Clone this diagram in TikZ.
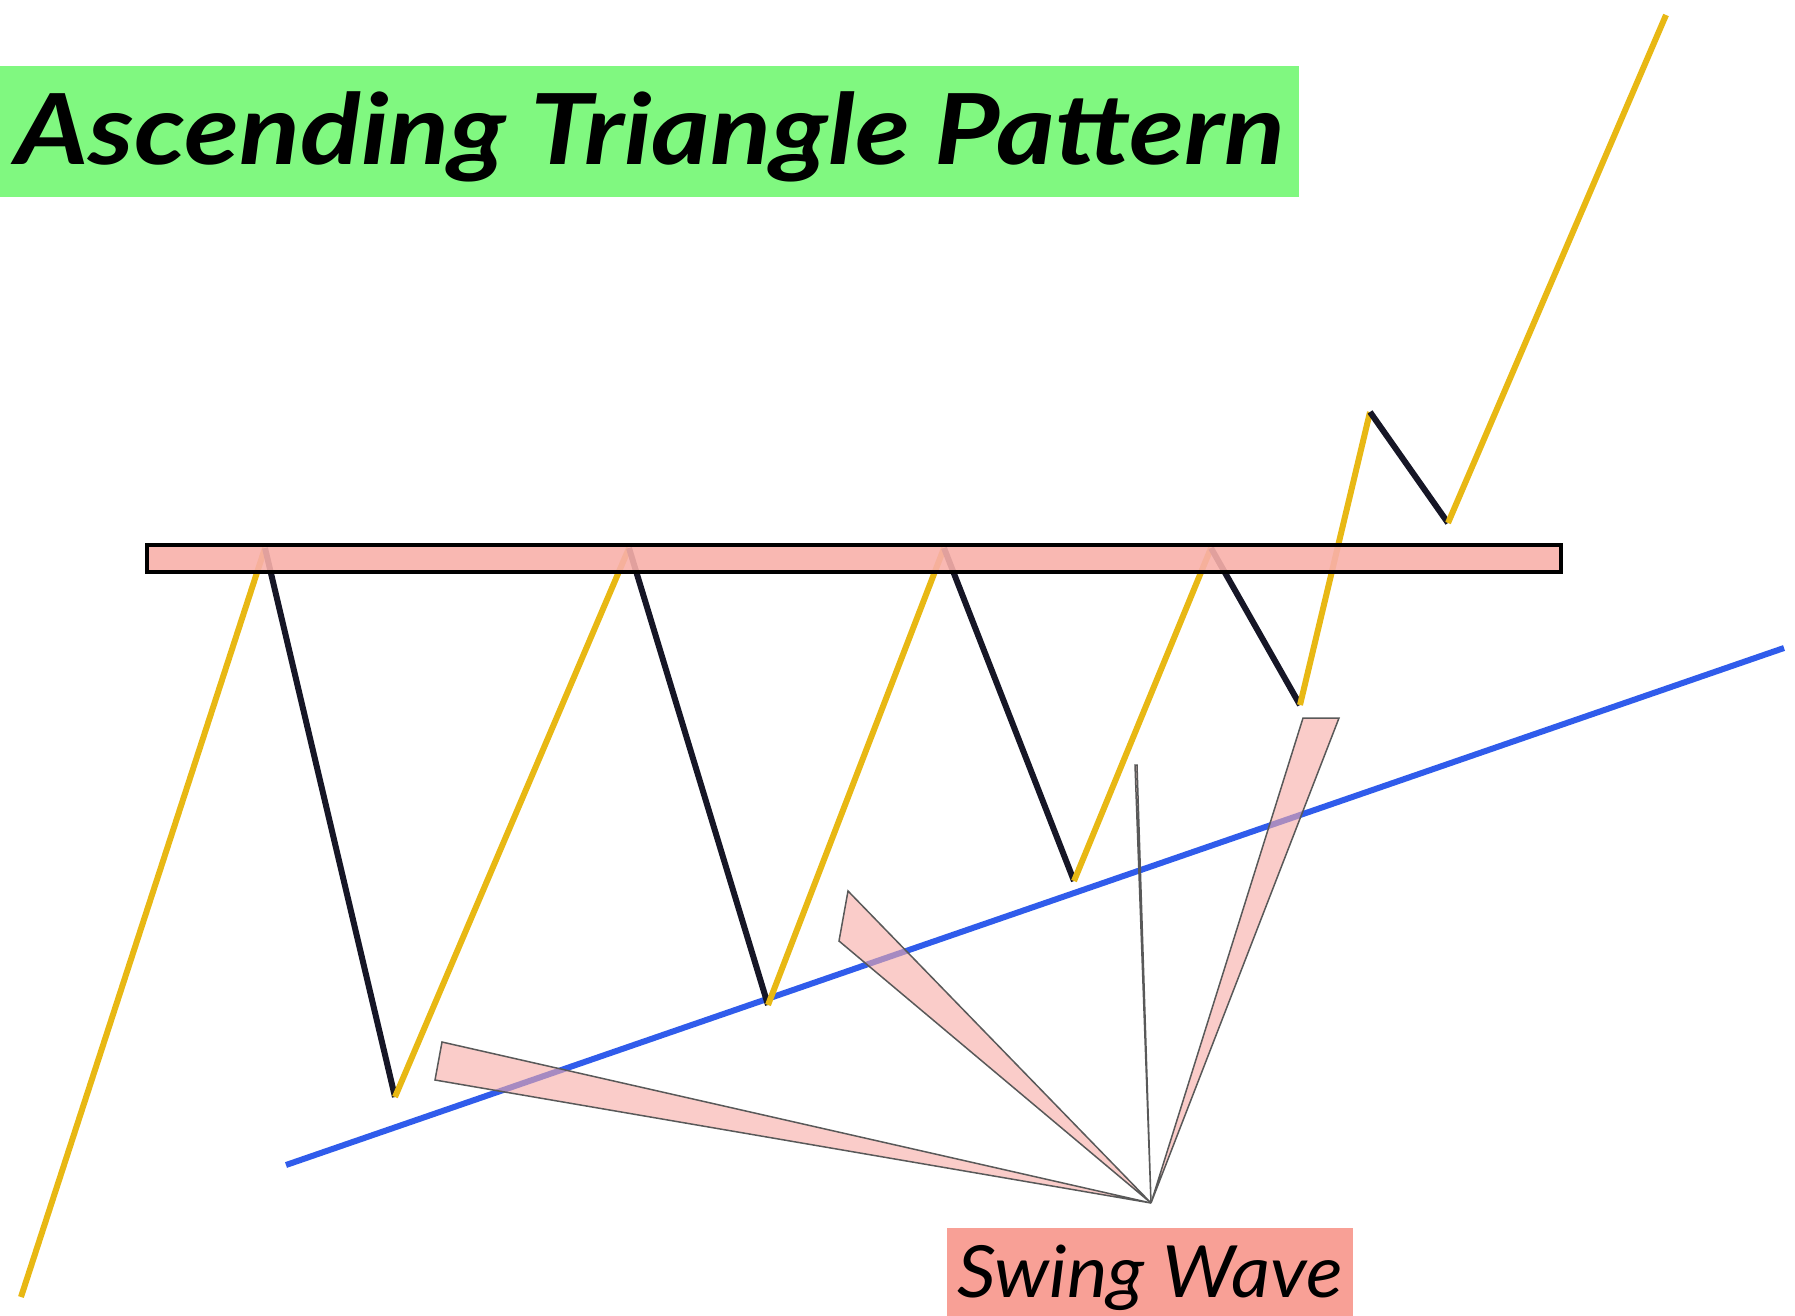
\documentclass[tikz,border=0pt]{standalone}
\usepackage{fontspec}
\setmainfont{Lato}
\definecolor{upc}{RGB}{232,184,20}
\definecolor{downc}{RGB}{22,22,38}
\definecolor{trendc}{RGB}{48,92,235}
\definecolor{zonec}{RGB}{248,176,170}
\definecolor{wedgec}{RGB}{246,170,165}
\definecolor{titlec}{RGB}{128,248,128}
\definecolor{labelc}{RGB}{248,160,150}
\tikzset{
  upleg/.style={draw=upc,line width=6pt},
  downleg/.style={draw=downc,line width=6pt},
  trend/.style={draw=trendc,line width=6pt},
  wedge/.style={draw=black!65,line width=1.5pt,fill=wedgec,fill opacity=0.6,line join=miter},
}
\begin{document}
\begin{tikzpicture}[x=1pt,y=-1pt]
\useasboundingbox (0,0) rectangle (1795,1316);
% title
\node[fill=titlec,anchor=north west,minimum width=1299pt,minimum height=131pt,inner sep=0pt] (titlebox) at (0,66) {};
\node[anchor=base,font=\fontsize{98}{110}\selectfont\bfseries\itshape,inner sep=0pt] (title) at (650,165) {\scalebox{1.15}[1]{Ascending Triangle Pattern}};
% swing points
\coordinate (s0) at (21,1297);
\coordinate (p1) at (265,548);
\coordinate (t1) at (395,1097);
\coordinate (p2) at (629,548);
\coordinate (t2) at (768,1005);
\coordinate (p3) at (944,548);
\coordinate (t3) at (1074,881);
\coordinate (p4) at (1211,548);
\coordinate (t4) at (1300,705);
\coordinate (p5) at (1370,412);
\coordinate (t5) at (1448,523);
\coordinate (e) at (1666,15);
% trend line
\coordinate (b0) at (286,1165);
\coordinate (b1) at (1784,648);
\draw[trend] (b0) -- (b1);
% legs
\draw[upleg] (s0) -- (p1);
\draw[downleg] (p1) -- (t1);
\draw[upleg] (t1) -- (p2);
\draw[downleg] (p2) -- (t2);
\draw[upleg] (t2) -- (p3);
\draw[downleg] (p3) -- (t3);
\draw[upleg] (t3) -- (p4);
\draw[downleg] (p4) -- (t4);
\draw[upleg] (t4) -- (p5);
\draw[downleg] (p5) -- (t5);
\draw[upleg] (t5) -- (e);
% resistance zone
\fill[zonec,opacity=0.9] (147,545) rectangle (1561,572);
\draw[black,line width=4pt] (147,545) rectangle (1561,572);
% callouts
\coordinate (tip) at (1151,1203);
\draw[wedge] (442,1042) -- (tip) -- (435,1080) -- cycle;
\draw[wedge] (848,891) -- (tip) -- (839,941) -- cycle;
\draw[wedge] (1135,765) -- (tip) -- (1137,765) -- cycle;
\draw[wedge] (1303,718) -- (1339,718) -- (tip) -- cycle;
% label
\node[fill=labelc,anchor=north west,minimum width=406pt,minimum height=90pt,inner sep=0pt] (labelbox) at (947,1228) {};
\node[anchor=base,font=\fontsize{72}{80}\selectfont\itshape,inner sep=0pt] (label) at (1150,1297) {\scalebox{1.06}[1]{Swing Wave}};
\end{tikzpicture}
\end{document}
